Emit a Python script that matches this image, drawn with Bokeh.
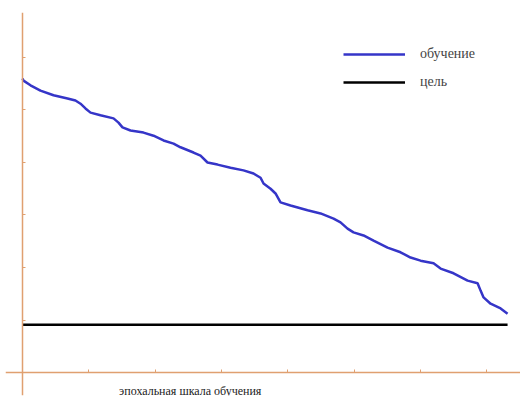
from bokeh.plotting import figure
from bokeh.models import Range1d, Legend, LegendItem, Label, FixedTicker, CustomJSTickFormatter
from bokeh.embed import file_html
from bokeh.resources import INLINE

# training curve (epoch, error)
epochs = [0.00, 0.15, 1.21, 2.71, 4.68, 6.79, 7.99, 8.75, 9.50, 10.26, 11.76, 13.73,
          14.48, 15.08, 16.29, 18.25, 19.76, 21.27, 22.78, 23.83, 25.79, 26.85, 27.90,
          29.41, 31.37, 33.33, 34.84, 35.90, 36.35, 37.41, 38.16, 38.91, 40.42, 42.99,
          44.95, 46.91, 47.96, 49.02, 49.92, 51.43, 52.94, 55.05, 57.01, 58.52, 60.03,
          61.99, 63.05, 65.01, 67.12, 68.63, 69.08, 69.53, 70.59, 72.10, 73.15]
error = [5.60, 5.56, 5.47, 5.37, 5.28, 5.22, 5.18, 5.12, 5.03, 4.95, 4.90, 4.84,
         4.76, 4.67, 4.61, 4.57, 4.51, 4.42, 4.36, 4.29, 4.19, 4.13, 4.00,
         3.96, 3.90, 3.85, 3.79, 3.71, 3.60, 3.50, 3.41, 3.24, 3.18, 3.09,
         3.03, 2.93, 2.86, 2.74, 2.67, 2.61, 2.51, 2.38, 2.29, 2.19, 2.13,
         2.08, 1.98, 1.89, 1.75, 1.70, 1.56, 1.43, 1.31, 1.22, 1.12]
goal_x = [0.0, 73.15]
goal_y = [0.91, 0.91]
x_ticks = [0, 10, 20, 30, 40, 50, 60, 70]
y_ticks = [1, 2, 3, 4, 5, 6]
legend_labels = ["обучение", "цель"]
x_title = "эпохальная шкала обучения"

p = figure(width=520, height=412, output_backend="svg", toolbar_location=None,
           x_range=Range1d(-2.56, 75.1), y_range=Range1d(-0.438, 6.857),
           min_border_left=5, min_border_right=0, min_border_top=12, min_border_bottom=17)
p.outline_line_color = None
p.grid.visible = False
p.background_fill_color = "white"

axis_color = "#e0a070"
for ax in (p.xaxis, p.yaxis):
    ax.fixed_location = 0
    ax.axis_line_color = axis_color
    ax.axis_line_width = 1.5
    ax.major_tick_line_color = axis_color
    ax.minor_tick_line_color = None
    ax.major_tick_in = 3
    ax.major_tick_out = 0
    ax.formatter = CustomJSTickFormatter(code="return ''")
    ax.major_label_standoff = 0
p.xaxis.ticker = FixedTicker(ticks=x_ticks)
p.yaxis.ticker = FixedTicker(ticks=y_ticks)

r1 = p.line(epochs, error, line_color="#3535c8", line_width=2.5)
r2 = p.line(goal_x, goal_y, line_color="black", line_width=2.5)

legend = Legend(items=[LegendItem(label=legend_labels[0], renderers=[r1]),
                       LegendItem(label=legend_labels[1], renderers=[r2])],
                location=(338, 303), glyph_width=62, glyph_height=20, spacing=8,
                padding=0, margin=0, label_standoff=15,
                label_text_font="Liberation Serif", label_text_font_size="14px",
                background_fill_alpha=0, border_line_alpha=0)
p.add_layout(legend, "center")

p.add_layout(Label(x=25.3, y=-0.343, text=x_title, text_align="center",
                   text_baseline="middle", text_font="Liberation Serif",
                   text_font_size="12px", text_color="#222222"))

open("out.html", "w").write(file_html(p, INLINE))
